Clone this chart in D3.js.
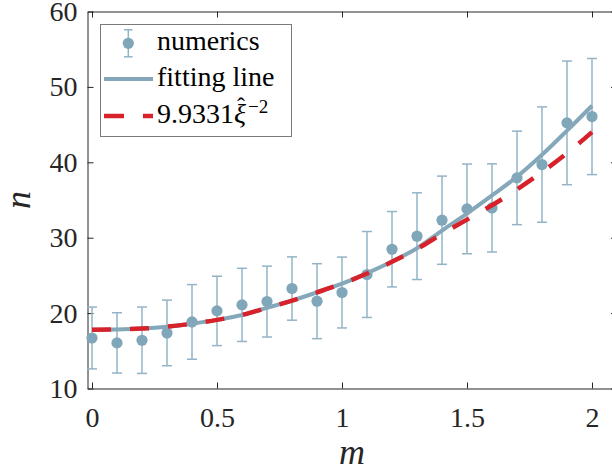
<!DOCTYPE html>
<html>
<head>
<meta charset="utf-8">
<script src="https://cdn.jsdelivr.net/npm/d3@7"></script>
</head>
<body style="margin:0">
<script>
// values
var mValues = [0, 0.1, 0.2, 0.3, 0.4, 0.5, 0.6, 0.7, 0.8, 0.9, 1.0,
               1.1, 1.2, 1.3, 1.4, 1.5, 1.6, 1.7, 1.8, 1.9, 2.0];
var numerics = [16.7, 16.05, 16.4, 17.37, 18.83, 20.29, 21.09, 21.53, 23.26, 21.58, 22.73,
                25.12, 28.47, 30.2, 32.32, 33.82, 33.95, 37.93, 39.7, 45.23, 46.07];
var numericsErr = [4.1, 4.0, 4.4, 4.35, 4.95, 4.6, 4.85, 4.7, 4.2, 4.97, 4.7,
                   5.7, 5.0, 5.75, 5.85, 5.95, 5.85, 6.2, 7.65, 8.2, 7.7];
var fitLine = [17.8, 17.83, 17.95, 18.2, 18.6, 19.1, 19.75, 20.7, 21.65, 22.75, 23.9,
               25.3, 26.85, 28.6, 30.95, 33.2, 35.6, 38.1, 41.0, 44.2, 47.5];
var xiLine = [17.8, 17.83, 17.95, 18.2, 18.6, 19.1, 19.75, 20.7, 21.65, 22.75, 23.9,
              25.25, 26.8, 28.5, 30.5, 32.4, 34.3, 36.4, 38.7, 41.2, 44.0];
var xTicks = [0, 0.5, 1, 1.5, 2];
var yTicks = [10, 20, 30, 40, 50, 60];
var legendLabels = ["numerics", "fitting line", "9.9331"];

var svgWidth = 612;
var svgHeight = 470;

var dotColor = "#7fa6b9";
var barColor = "#93b4c6";
var fitColor = "#84a8ba";
var redColor = "#d7222b";
var axisColor = "#262626";
var serifFont = "'Liberation Serif'";

var svg = d3.select("body")
    .append("svg")
    .attr("width", svgWidth)
    .attr("height", svgHeight);

// scales
var x = d3.scaleLinear()
    .domain([-0.018, 2.1])
    .range([87.5, 617]);

var y = d3.scaleLinear()
    .domain([10, 60])
    .range([388.5, 11.5]);

var plotLeft = x.range()[0], plotRight = x.range()[1];
var plotBottom = y.range()[0], plotTop = y.range()[1];

var rows = mValues.map(function (m, i) {
    return { m: m, n: numerics[i], e: numericsErr[i], fit: fitLine[i], xi: xiLine[i] };
});

// axes (box with inward ticks)
function styleAxis(g) {
    g.attr("font-family", null).attr("font-size", null);
    g.select(".domain").attr("stroke", axisColor).attr("stroke-width", 1);
    g.selectAll(".tick line").attr("stroke", axisColor).attr("stroke-width", 1);
    g.selectAll(".tick text")
        .attr("fill", axisColor)
        .style("font-family", serifFont)
        .style("font-size", "28px");
}

svg.append("g")
    .attr("transform", "translate(0," + plotBottom + ")")
    .call(d3.axisBottom(x).tickValues(xTicks).tickFormat(d3.format("")).tickSizeInner(-6).tickSizeOuter(0).tickPadding(19))
    .call(styleAxis);

svg.append("g")
    .attr("transform", "translate(" + plotLeft + ",0)")
    .call(d3.axisLeft(y).tickValues(yTicks).tickSizeInner(-6).tickSizeOuter(0).tickPadding(10))
    .call(styleAxis);

svg.append("g")
    .attr("transform", "translate(0," + plotTop + ")")
    .call(d3.axisTop(x).tickValues(xTicks).tickFormat("").tickSizeInner(-6).tickSizeOuter(0))
    .call(styleAxis);

svg.append("g")
    .attr("transform", "translate(" + plotRight + ",0)")
    .call(d3.axisRight(y).tickValues(yTicks).tickFormat("").tickSizeInner(-6).tickSizeOuter(0))
    .call(styleAxis);

// axis labels
svg.append("text")
    .attr("x", x(1.04))
    .attr("y", 464)
    .attr("text-anchor", "middle")
    .style("font-family", serifFont)
    .style("font-style", "italic")
    .style("font-size", "36px")
    .attr("fill", axisColor)
    .text("m");

svg.append("text")
    .attr("transform", "translate(30," + ((plotTop + plotBottom) / 2) + ") rotate(-90)")
    .attr("text-anchor", "middle")
    .style("font-family", serifFont)
    .style("font-style", "italic")
    .style("font-size", "36px")
    .attr("fill", axisColor)
    .text("n");

// error bars
var bars = svg.append("g").attr("stroke", barColor).attr("stroke-width", 1.5);
bars.selectAll(".vbar").data(rows).enter().append("line")
    .attr("x1", d => x(d.m)).attr("x2", d => x(d.m))
    .attr("y1", d => y(d.n - d.e)).attr("y2", d => y(d.n + d.e));
bars.selectAll(".capTop").data(rows).enter().append("line")
    .attr("x1", d => x(d.m) - 5).attr("x2", d => x(d.m) + 5)
    .attr("y1", d => y(d.n + d.e)).attr("y2", d => y(d.n + d.e));
bars.selectAll(".capBot").data(rows).enter().append("line")
    .attr("x1", d => x(d.m) - 5).attr("x2", d => x(d.m) + 5)
    .attr("y1", d => y(d.n - d.e)).attr("y2", d => y(d.n - d.e));

// points
svg.append("g").selectAll("circle").data(rows).enter().append("circle")
    .attr("cx", d => x(d.m))
    .attr("cy", d => y(d.n))
    .attr("r", 5.6)
    .attr("fill", dotColor);

// fitting line
svg.append("path")
    .datum(rows)
    .attr("fill", "none")
    .attr("stroke", fitColor)
    .attr("stroke-width", 4)
    .attr("d", d3.line().x(d => x(d.m)).y(d => y(d.fit)).curve(d3.curveMonotoneX));

// 9.9331 xi^-2 dashed line
svg.append("path")
    .datum(rows)
    .attr("fill", "none")
    .attr("stroke", redColor)
    .attr("stroke-width", 4.5)
    .attr("stroke-dasharray", "19,19")
    .attr("d", d3.line().x(d => x(d.m)).y(d => y(d.xi)).curve(d3.curveMonotoneX));

// legend
var legend = svg.append("g");
legend.append("rect")
    .attr("x", 100.5).attr("y", 24.5)
    .attr("width", 191).attr("height", 112)
    .attr("fill", "#fff")
    .attr("stroke", "#7a7a7a")
    .attr("stroke-width", 1);

var rowY = [43.3, 79, 116];

// numerics entry
legend.append("line")
    .attr("x1", 128.3).attr("x2", 128.3).attr("y1", rowY[0] - 13.5).attr("y2", rowY[0] + 13.5)
    .attr("stroke", barColor).attr("stroke-width", 1.5);
[-13.5, 13.5].forEach(function (dy) {
    legend.append("line")
        .attr("x1", 124).attr("x2", 132.6).attr("y1", rowY[0] + dy).attr("y2", rowY[0] + dy)
        .attr("stroke", barColor).attr("stroke-width", 1.5);
});
legend.append("circle")
    .attr("cx", 128.3).attr("cy", rowY[0]).attr("r", 5.6).attr("fill", dotColor);

// fitting line entry
legend.append("line")
    .attr("x1", 104).attr("x2", 153).attr("y1", rowY[1]).attr("y2", rowY[1])
    .attr("stroke", fitColor).attr("stroke-width", 4);

// red entry
legend.append("line")
    .attr("x1", 104).attr("x2", 153).attr("y1", rowY[2]).attr("y2", rowY[2])
    .attr("stroke", redColor).attr("stroke-width", 4.5)
    .attr("stroke-dasharray", "20,19");

legendLabels.forEach(function (label, i) {
    var t = legend.append("text")
        .attr("x", 157)
        .attr("y", rowY[i] + 7)
        .style("font-family", serifFont)
        .style("font-size", "28px")
        .attr("fill", "#000")
        .text(label);
    if (i === 2) {
        // xi with a hat and the -2 exponent
        t.append("tspan").style("font-style", "italic").text("\u03BE");
        t.append("tspan").style("font-size", "24px").attr("dx", -9).attr("dy", -9).text("\u02C6");
        t.append("tspan").style("font-size", "19px").attr("dx", 3).attr("dy", -1).text("\u22122");
    }
});
</script>
</body>
</html>
